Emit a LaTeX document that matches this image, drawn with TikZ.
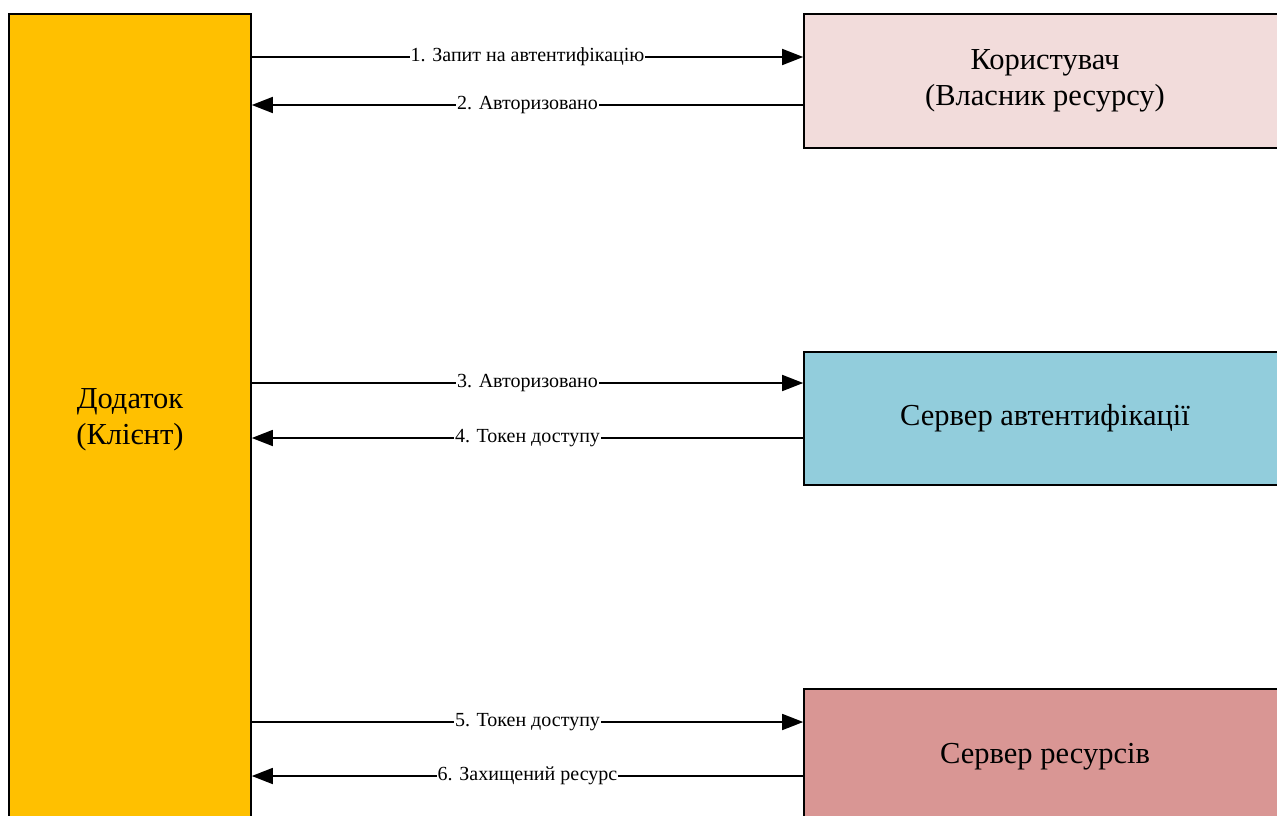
\documentclass[tikz,border=0pt]{standalone}
\usepackage{fontspec}
\setmainfont{Liberation Serif}
\usetikzlibrary{arrows.meta}
\usepackage{xcolor}

\definecolor{clientcol}{HTML}{FFC000}
\definecolor{ownercol}{HTML}{F2DCDB}
\definecolor{authcol}{HTML}{92CDDC}
\definecolor{rescol}{HTML}{D99694}

\tikzset{
  party/.style={draw, line width=1.6pt, align=center, inner sep=0pt, font=\fontsize{30.5}{36}\selectfont},
  flow/.style={-{Triangle[length=21pt,width=16pt]}, line width=1.6pt},
  msg/.style={fill=white, inner sep=1pt, font=\fontsize{20}{22}\selectfont},
}

\begin{document}
\begin{tikzpicture}[x=1pt,y=1pt]
				\useasboundingbox (0,0) rectangle (1277,-816);
				\node[party, fill=clientcol, minimum width=242pt, minimum height=812pt] (client) at (130,-420) {Додаток\\(Клієнт)};
				\node[party, fill=ownercol, minimum width=482pt, minimum height=134pt] (owner) at (1045,-81) {Користувач\\(Власник ресурсу)};
				\node[party, fill=authcol, minimum width=482pt, minimum height=133pt] (auth) at (1045,-418.5) {Сервер автентифікації};
				\node[party, fill=rescol, minimum width=482pt, minimum height=136pt] (res) at (1045,-757) {Сервер ресурсів};
				
				\coordinate (m1) at (527,-57);
				\coordinate (m2) at (527,-105);
				\coordinate (m3) at (527,-383);
				\coordinate (m4) at (527,-438);
				\coordinate (m5) at (527,-722);
				\coordinate (m6) at (527,-776);
				
				\draw[flow] (client.east |- m1) -- (owner.west |- m1) node[midway, msg] {1. Запит на автентифікацію};
				\draw[flow] (owner.west |- m2) -- (client.east |- m2) node[midway, msg] {2. Авторизовано};
				\draw[flow] (client.east |- m3) -- (auth.west |- m3) node[midway, msg] {3. Авторизовано};
				\draw[flow] (auth.west |- m4) -- (client.east |- m4) node[midway, msg] {4. Токен доступу};
				\draw[flow] (client.east |- m5) -- (res.west |- m5) node[midway, msg] {5. Токен доступу};
				\draw[flow] (res.west |- m6) -- (client.east |- m6) node[midway, msg] {6. Захищений ресурс};
			\end{tikzpicture}
\end{document}
